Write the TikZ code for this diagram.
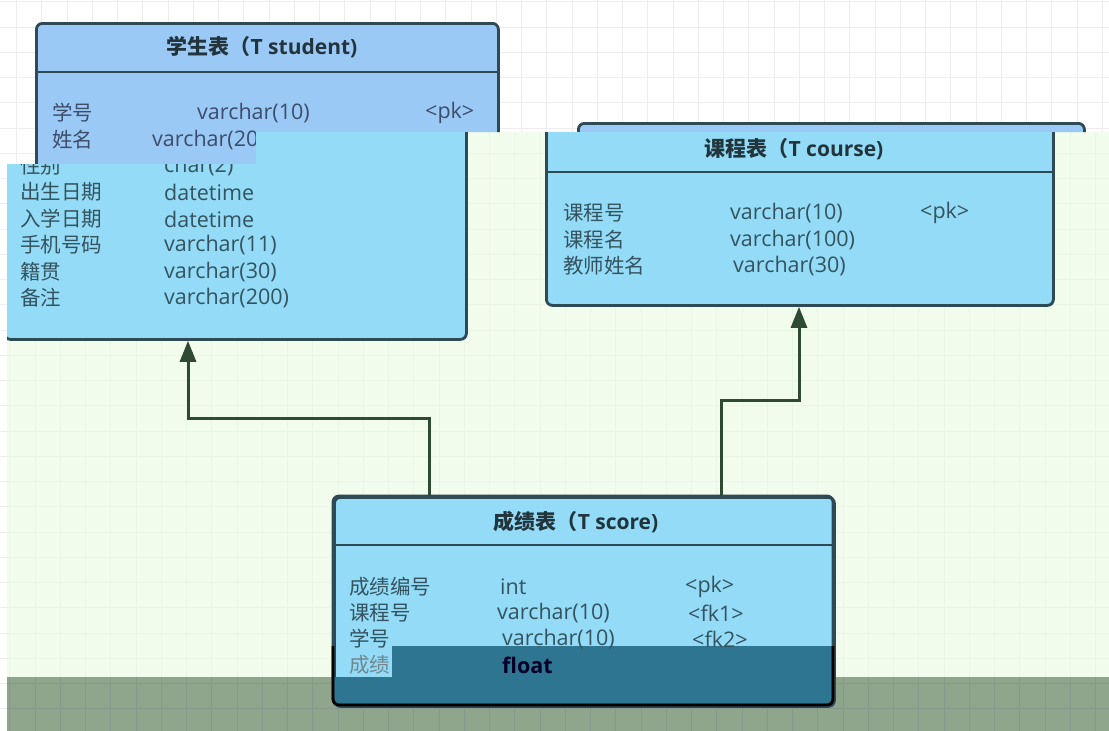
\documentclass[tikz,border=0pt]{standalone}
\usepackage{fontspec}
\setmainfont{Open Sans}
\newfontfamily\cjk{Noto Sans CJK SC}
\newcommand\cjkt{\cjk\fontsize{20.5}{22}\selectfont}
\usetikzlibrary{arrows.meta}
\definecolor{bgg}{HTML}{F1FCEC}
\definecolor{band}{HTML}{90A68C}
\definecolor{gridw}{HTML}{EDEDED}
\definecolor{gridg}{HTML}{EAF6E5}
\definecolor{gridb}{HTML}{86998A}
\definecolor{boxblue}{HTML}{9BC9F6}
\definecolor{boxcyan}{HTML}{93DBF6}
\definecolor{boxteal}{HTML}{2E7592}
\definecolor{edge}{HTML}{2E4A55}
\definecolor{arrowc}{HTML}{2F4A33}
\definecolor{txtT}{HTML}{3C4C6A}
\definecolor{txt}{HTML}{34535F}
\definecolor{ttlc}{HTML}{22343C}
\tikzset{
  tbl/.style={draw=edge, line width=2.8pt, rounded corners=6pt, inner sep=0pt, anchor=north west},
  sepline/.style={draw=edge, line width=2.8pt},
  fld/.style={anchor=west, inner sep=0pt, text=txt, font=\fontsize{21.5}{22}\selectfont},
  fldT/.style={fld, text=txtT},
  ttl/.style={inner sep=0pt, text=ttlc, font=\fontsize{21}{22}\selectfont\bfseries},
  conn/.style={draw=arrowc, line width=3pt, -{Triangle[length=21pt,width=16pt]}},
  gl/.style={line width=0.8pt}
}
\begin{document}
\begin{tikzpicture}[x=1pt,y=-1pt]
\useasboundingbox (0,0) rectangle (1109,731);
% backgrounds
\fill[white] (0,0) rectangle (1109,731);
\foreach \k in {0,...,43} \draw[gridw,gl] ({16.5+25.25*\k},0) -- ({16.5+25.25*\k},731);
\foreach \k in {0,...,28} \draw[gridw,gl] (0,{1.75+25.25*\k}) -- (1109,{1.75+25.25*\k});
\fill[bgg] (7,164) -- (256,164) -- (256,132) -- (1109,132) -- (1109,677) -- (7,677) -- cycle;
\fill[band] (7,677) rectangle (1109,731);
\begin{scope}
  \clip (7,164) -- (256,164) -- (256,132) -- (1109,132) -- (1109,677) -- (7,677) -- cycle;
  \foreach \k in {1,...,45} \draw[gridg,gl] ({-15.5+25.25*\k},0) -- ({-15.5+25.25*\k},731);
  \foreach \k in {0,...,28} \draw[gridg,gl] (0,{1.75+25.25*\k}) -- (1109,{1.75+25.25*\k});
\end{scope}
\begin{scope}
  \clip (7,677) rectangle (1109,731);
  \foreach \k in {1,...,45} \draw[gridb,gl] ({-15.5+25.25*\k},0) -- ({-15.5+25.25*\k},731);
  \foreach \k in {26,...,28} \draw[gridb,gl] (0,{1.75+25.25*\k}) -- (1109,{1.75+25.25*\k});
\end{scope}
% ---------- top (original) region ----------
\begin{scope}
  \clip (0,0) -- (1109,0) -- (1109,132) -- (256,132) -- (256,164) -- (0,164) -- cycle;
  \node[tbl, fill=boxblue, minimum width=462pt, minimum height=316pt] (stuT) at (35,22) {};
  \draw[sepline] (stuT.west |- 0,72) -- (stuT.east |- 0,72);
  \node[ttl] (stuTitle) at (262,47) {{\cjk 学生表（}T student)};
  \node[fldT] (s1n) at (52,113) {\cjkt 学号};
  \node[fldT] (s1t) at (197,113) {varchar(10)};
  \node[fldT] (s1k) at (425,113) {<pk>};
  \node[fldT] (s2n) at (52,140) {\cjkt 姓名};
  \node[fldT] (s2t) at (152,140) {varchar(20};
  \node[tbl, fill=boxblue, minimum width=506pt, minimum height=182pt] (crsT) at (577,122) {};
\end{scope}
% ---------- overlay (shifted) region ----------
\begin{scope}
  \clip (7,164) -- (256,164) -- (256,132) -- (1109,132) -- (1109,731) -- (7,731) -- cycle;
  % student table (lower part)
  \node[tbl, fill=boxcyan, minimum width=462pt, minimum height=316pt] (stu) at (3,22) {};
  \node[fld] (s3n) at (20,166) {\cjkt 性别};
  \node[fld] (s3t) at (164,166) {char(2)};
  \node[fld] (s4n) at (20,192) {\cjkt 出生日期};
  \node[fld] (s4t) at (164,192) {datetime};
  \node[fld] (s5n) at (20,219) {\cjkt 入学日期};
  \node[fld] (s5t) at (164,219) {datetime};
  \node[fld] (s6n) at (20,245) {\cjkt 手机号码};
  \node[fld] (s6t) at (164,245) {varchar(11)};
  \node[fld] (s7n) at (20,272) {\cjkt 籍贯};
  \node[fld] (s7t) at (164,272) {varchar(30)};
  \node[fld] (s8n) at (20,298) {\cjkt 备注};
  \node[fld] (s8t) at (164,298) {varchar(200)};
  % course table
  \node[tbl, fill=boxcyan, minimum width=507pt, minimum height=182pt] (crs) at (545,122) {};
  \draw[sepline] (crs.west |- 0,172) -- (crs.east |- 0,172);
  \node[ttl] (crsTitle) at (794,149) {{\cjk 课程表（}T course)};
  \node[fld] (c1n) at (563,213) {\cjkt 课程号};
  \node[fld] (c1t) at (730,213) {varchar(10)};
  \node[fld] (c1k) at (920,213) {<pk>};
  \node[fld] (c2n) at (563,240) {\cjkt 课程名};
  \node[fld] (c2t) at (730,240) {varchar(100)};
  \node[fld] (c3n) at (563,266) {\cjkt 教师姓名};
  \node[fld] (c3t) at (733,266) {varchar(30)};
  % score table
  \node[tbl, fill=boxcyan, minimum width=500pt, minimum height=209pt] (sco) at (333,496) {};
  \begin{scope}
    \clip[rounded corners=6pt] (333,496) rectangle (833,705);
    \fill[boxteal] (392,646) -- (833,646) -- (833,705) -- (333,705) -- (333,677) -- (392,677) -- cycle;
  \end{scope}
  \draw[edge, line width=2.8pt, rounded corners=6pt] (333,496) rectangle (833,705);
  \begin{scope}
    \clip (300,646) rectangle (900,731);
    \draw[black, line width=2.8pt, rounded corners=6pt] (333,496) rectangle (833,705);
  \end{scope}
  \draw[sepline] (sco.west |- 0,545) -- (sco.east |- 0,545);
  \node[ttl] (scoTitle) at (576,522) {{\cjk 成绩表（}T score)};
  \node[fld] (r1n) at (349,587) {\cjkt 成绩编号};
  \node[fld] (r1t) at (500,587) {int};
  \node[fld] (r1k) at (685,587) {<pk>};
  \node[fld] (r2n) at (349,613) {\cjkt 课程号};
  \node[fld] (r2t) at (497,613) {varchar(10)};
  \node[fld] (r2k) at (688,613) {<fk1>};
  \node[fld] (r3n) at (349,639) {\cjkt 学号};
  \node[fld] (r3t) at (502,639) {varchar(10)};
  \node[fld] (r3k) at (692,639) {<fk2>};
  \node[fld, text=txt!70] (r4n) at (349,665) {\cjkt 成绩};
  \node[fld, text=black!85!blue, font=\fontsize{21.5}{22}\selectfont\bfseries] (r4t) at (502,665) {float};
  % connectors
  \draw[conn] (429,0 |- sco.north) -- (429,418) -- (188,418) -- (188,0 |- stu.south);
  \draw[conn] (721,0 |- sco.north) -- (721,400) -- (799,400) -- (799,0 |- crs.south);
\end{scope}
\end{tikzpicture}
\end{document}
